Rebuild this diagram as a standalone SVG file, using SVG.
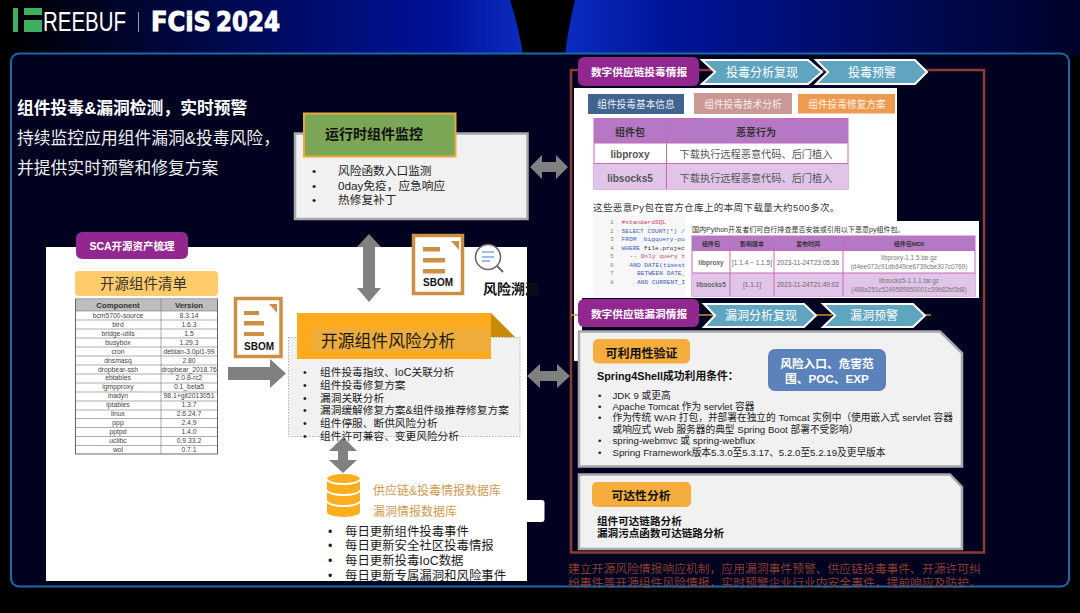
<svg xmlns="http://www.w3.org/2000/svg" width="1080" height="613" viewBox="0 0 1080 613">
<defs>
<linearGradient id="bgL" gradientUnits="userSpaceOnUse" x1="0" y1="0" x2="523" y2="0"><stop offset="0" stop-color="#000"/><stop offset="0.5" stop-color="#000a5c"/><stop offset="0.85" stop-color="#00129a"/><stop offset="1" stop-color="#0a2cc0"/></linearGradient>
<linearGradient id="bgR" gradientUnits="userSpaceOnUse" x1="565" y1="0" x2="1080" y2="0"><stop offset="0" stop-color="#0a2cc0"/><stop offset="0.2" stop-color="#00149a"/><stop offset="0.55" stop-color="#000c66"/><stop offset="1" stop-color="#000228"/></linearGradient>
</defs>
<style>
text{font-family:"Liberation Sans","Noto Sans CJK SC",sans-serif}
.b{font-weight:700}
.w{fill:#fff}
.ar{fill:#808080}
.pur{fill:#92278f}
.chev{fill:#5fa5c0;stroke:#fff;stroke-width:2}
.c{text-anchor:middle}
.gp{fill:#f1f1f1;stroke:#a9a9ad;stroke-width:2.5}
.sb{fill:#fff;stroke:#cc8f44;stroke-width:3.5}
.sl{fill:#cc8f44}
.t97{font-size:9.7px;fill:#222}
.t107{font-size:10.7px;fill:#222}
.t117{font-size:11.7px;fill:#222}
.t124{font-size:12.4px;fill:#1c1c1c}
.cell{font-size:6.8px;fill:#444;text-anchor:middle}
.ln{stroke:#777;stroke-width:.6}
.m{font-size:6.2px}
.m text{font-family:"Liberation Mono",monospace}
.tab{font-size:9.7px;text-anchor:middle}
.pt{font-size:10.2px;fill:#555;text-anchor:middle}
.h2{font-size:6px;font-weight:700;fill:#333;text-anchor:middle}
.v2{font-size:6.5px;fill:#666;text-anchor:middle}
.md{font-size:6.4px;fill:#777;text-anchor:middle}
</style>
<rect width="1080" height="613" fill="#000"/>
<path d="M0 0H510Q519 28 523 56H0z" fill="url(#bgL)"/>
<path d="M575 0Q568 28 565 56H1080V0z" fill="url(#bgR)"/>
<rect x="11" y="53.500" width="1058" height="533" rx="8" fill="#00021f" stroke="#1a6aa8" stroke-width="2"/>

<g id="logo">
<rect x="13" y="8" width="5" height="24" fill="#3fae5f"/><rect x="24" y="8" width="18" height="7" fill="#3fae5f"/><rect x="24" y="20" width="18" height="12" fill="#3fae5f"/>
<text x="43" y="31" font-size="27" class="w" textLength="83" lengthAdjust="spacingAndGlyphs">REEBUF</text>
<rect x="138" y="12" width="1" height="20" fill="#99a"/>
<text x="151" y="31" font-size="26" class="w b" stroke="#fff" stroke-width="1" textLength="60" lengthAdjust="spacingAndGlyphs" style="font-family:'DejaVu Sans',sans-serif">FCiS</text>
<text x="216" y="31" font-size="26" class="w b" stroke="#fff" stroke-width="1" textLength="64" lengthAdjust="spacingAndGlyphs" style="font-family:'DejaVu Sans',sans-serif">2024</text>
</g>

<g id="intro">
<text x="17" y="114" font-size="16.800" class="w b">组件投毒&amp;漏洞检测，实时预警</text>
<text x="17" y="144" font-size="16.800" fill="#eee">持续监控应用组件漏洞&amp;投毒风险，</text>
<text x="17" y="174" font-size="16.800" fill="#eee">并提供实时预警和修复方案</text>
</g>

<g id="white-panels">
<rect x="46" y="247" width="481" height="334" fill="#fff"/>
<rect x="525" y="500" width="19.500" height="22" rx="3" fill="#fff"/>
</g>

<g id="connectors">
<path class="ar" d="M228 367h42v-8l16 14.500-16 14.500v-8h-42z"/>
<path class="ar" d="M369 234l12 13h-6v41h6l-12 14-12-14h6v-41h-6z"/>
<path class="ar" d="M343 437l14 14h-9v9h9l-14 13-14-13h9v-9h-9z"/>
<path class="ar" d="M530 167l12-12v7h14v-7l12 12-12 12v-7h-14v7z"/>
<path class="ar" d="M527 376l13-12v7h17v-7l13 12-13 12v-7h-17v7z"/>
<path d="M571 552.500V70H984V552.500z" fill="none" stroke="#8a3c30" stroke-width="2.500"/>
</g>

<g id="sca">
<rect x="76" y="232" width="112" height="27" rx="6" class="pur"/>
<text x="132" y="250" font-size="10.500" class="w b c">SCA开源资产梳理</text>
<rect x="75" y="271" width="143" height="25" rx="4" fill="#ffcb6b"/>
<text x="143.500" y="289" font-size="14.500" fill="#333" class="c">开源组件清单</text>
</g>

<g id="component-table">
<rect x="75.500" y="299" width="142" height="155" fill="#fff" stroke="#666" stroke-width="1"/>
<rect x="76" y="299.500" width="141" height="11.500" fill="#bdbdbd"/>
<path class="ln" d="M76 311H217M76 320H217M76 329H217M76 338H217M76 347H217M76 356H217M76 365H217M76 374H217M76 383H217M76 392H217M76 401H217M76 410H217M76 418.500H217M76 427.500H217M76 436.500H217M76 445.500H217M161 299V454"/>
<text x="118" y="308" font-size="7.800" class="c b" fill="#333">Component</text><text x="189" y="308" font-size="7.800" class="c b" fill="#333">Version</text>
<text class="cell" x="118" y="317.700">bcm5700-source</text><text class="cell" x="189" y="317.700">8.3.14</text>
<text class="cell" x="118" y="326.700">bird</text><text class="cell" x="189" y="326.700">1.6.3</text>
<text class="cell" x="118" y="335.600">bridge-utils</text><text class="cell" x="189" y="335.600">1.5</text>
<text class="cell" x="118" y="344.600">busybox</text><text class="cell" x="189" y="344.600">1.29.3</text>
<text class="cell" x="118" y="353.500">cron</text><text class="cell" x="189" y="353.500">debian-3.0pl1-99</text>
<text class="cell" x="118" y="362.500">dnsmasq</text><text class="cell" x="189" y="362.500">2.80</text>
<text class="cell" x="118" y="371.500">dropbear-ssh</text><text class="cell" x="189" y="371.500">dropbear_2018.76</text>
<text class="cell" x="118" y="380.400">ebtables</text><text class="cell" x="189" y="380.400">2.0.8-rc2</text>
<text class="cell" x="118" y="389.400">igmpproxy</text><text class="cell" x="189" y="389.400">0.1_beta5</text>
<text class="cell" x="118" y="398.300">inadyn</text><text class="cell" x="189" y="398.300">98.1+git2013051</text>
<text class="cell" x="118" y="407.300">iptables</text><text class="cell" x="189" y="407.300">1.3.7</text>
<text class="cell" x="118" y="416.300">linux</text><text class="cell" x="189" y="416.300">2.6.24.7</text>
<text class="cell" x="118" y="425.200">ppp</text><text class="cell" x="189" y="425.200">2.4.9</text>
<text class="cell" x="118" y="434.200">pptpd</text><text class="cell" x="189" y="434.200">1.4.0</text>
<text class="cell" x="118" y="443.100">uclibc</text><text class="cell" x="189" y="443.100">0.9.33.2</text>
<text class="cell" x="118" y="452.100">wol</text><text class="cell" x="189" y="452.100">0.7.1</text>
</g>

<g id="sbom-left">
<rect x="235.500" y="298.500" width="45.500" height="58" class="sb"/>
<path d="M269 304h8v9z" class="sl"/>
<rect x="244" y="311" width="15" height="4" class="sl"/><rect x="244" y="321" width="20" height="4.500" class="sl"/><rect x="244" y="332" width="20" height="4" class="sl"/>
<text x="259" y="350" font-size="10" class="b c" fill="#111">SBOM</text>
</g>

<g id="runtime">
<rect x="295" y="133.500" width="232.500" height="85.500" class="gp"/>
<rect x="304" y="113.500" width="151.500" height="43" fill="#7aa655" stroke="#eda83b" stroke-width="2"/>
<text x="374" y="138.500" font-size="14" class="b c" fill="#111">运行时组件监控</text>
<text x="312" y="175" class="t117">•</text><text x="338" y="175" class="t117">风险函数入口监测</text>
<text x="312" y="190" class="t117">•</text><text x="338" y="190" class="t117">0day免疫，应急响应</text>
<text x="312" y="204" class="t117">•</text><text x="338" y="204" class="t117">热修复补丁</text>
</g>

<g id="sbom-top">
<rect x="413.500" y="235.500" width="49" height="58" class="sb"/>
<path d="M451 241h8v9z" class="sl"/>
<rect x="423" y="247" width="17" height="4.500" class="sl"/><rect x="423" y="258" width="22" height="4.500" class="sl"/><rect x="423" y="269" width="22" height="4.500" class="sl"/>
<text x="438" y="286" font-size="10" class="b c" fill="#111">SBOM</text>
</g>

<g id="risk-trace">
<circle cx="488" cy="257" r="12.500" fill="#fff" stroke="#666" stroke-width="1.500"/>
<path d="M497 266l6 6" stroke="#666" stroke-width="2"/>
<path d="M482 252h12M482 257h12M482 261h8" stroke="#7aa7ee" stroke-width="1.500"/>
<text x="483" y="294" font-size="14" class="b" fill="#111">风险溯源</text>
</g>

<g id="risk-analysis">
<rect x="288.500" y="337.500" width="231.500" height="99" fill="#f1f1f1" stroke="#b0b0b0" stroke-dasharray="1.500 1.500"/>
<path d="M491 313l24 24h-24z" fill="#c98a05"/>
<rect x="297" y="313" width="194" height="46" fill="#fdab1d"/>
<rect x="312" y="328" width="179" height="24" rx="4" fill="#eeac3a"/>
<text x="321" y="347" font-size="16.800" fill="#1a1a1a">开源组件风险分析</text>
<text x="303" y="376" class="t107">•</text><text x="320" y="376" class="t107">组件投毒指纹、IoC关联分析</text>
<text x="303" y="389" class="t107">•</text><text x="320" y="389" class="t107">组件投毒修复方案</text>
<text x="303" y="402" class="t107">•</text><text x="320" y="402" class="t107">漏洞关联分析</text>
<text x="303" y="414" class="t107">•</text><text x="320" y="414" class="t107">漏洞缓解修复方案&amp;组件级推荐修复方案</text>
<text x="303" y="427" class="t107">•</text><text x="320" y="427" class="t107">组件停服、断供风险分析</text>
<text x="303" y="440" class="t107">•</text><text x="320" y="440" class="t107">组件许可兼容、变更风险分析</text>
</g>

<g id="database">
<path d="M327 479a16.500 5 0 0 1 33 0v33a16.500 5 0 0 1-33 0z" fill="#fcae1e"/>
<path d="M327 479a16.500 5 0 0 0 33 0M327 490a16.500 5 0 0 0 33 0M327 501a16.500 5 0 0 0 33 0" fill="none" stroke="#fff" stroke-width="1.800"/>
<text x="373" y="494.500" font-size="12" fill="#cf9a4e">供应链&amp;投毒情报数据库</text>
<text x="373" y="516" font-size="12" fill="#cf9a4e">漏洞情报数据库</text>
<text x="328" y="535.500" class="t124">•</text><text x="345" y="535.500" class="t124">每日更新组件投毒事件</text>
<text x="328" y="550" class="t124">•</text><text x="345" y="550" class="t124">每日更新安全社区投毒情报</text>
<text x="328" y="565" class="t124">•</text><text x="345" y="565" class="t124">每日更新投毒IoC数据</text>
<text x="328" y="580" class="t124">•</text><text x="345" y="580" class="t124">每日更新专属漏洞和风险事件</text>
</g>

<g id="poison-panel">
<rect x="574" y="88" width="323" height="210" fill="#fff"/>
<rect x="574" y="298" width="8" height="63" fill="#fff"/>
<rect x="578" y="57" width="121" height="29" rx="6" class="pur"/>
<text x="639" y="76" font-size="10.700" class="w b c">数字供应链投毒情报</text>
<path class="chev" d="M702 60H808L822 72 808 84H702L715 72z"/>
<text x="762" y="76.500" font-size="12" class="w c">投毒分析复现</text>
<path class="chev" d="M816 60H915L927 72 915 84H816L828 72z"/>
<text x="872" y="76.500" font-size="12" class="w c">投毒预警</text>
<rect x="588" y="94" width="96" height="20" fill="#41648f"/><text class="tab" x="636" y="108" fill="#e8eef6">组件投毒基本信息</text>
<rect x="694" y="93" width="98" height="21" fill="#cb9995"/><text class="tab" x="743" y="108" fill="#f7ecec">组件投毒技术分析</text>
<rect x="798" y="94" width="97" height="19.500" fill="#ee9a50"/><text class="tab" x="847" y="108" fill="#fff3e6">组件投毒修复方案</text>
<rect x="594" y="118.500" width="254" height="70.500" fill="#fff" stroke="#c868b8"/>
<rect x="594" y="119" width="254" height="24" fill="#b478c4"/>
<rect x="594" y="163.500" width="254" height="25.500" fill="#e0c5e8"/>
<path d="M594 143H848M594 163.500H848M666.500 119V189" stroke="#c868b8" fill="none"/>
<text x="630" y="136" font-size="10" class="c b" fill="#333">组件包</text><text x="756" y="136" font-size="10" class="c b" fill="#333">恶意行为</text>
<text x="630" y="158" font-size="10" class="c b" fill="#555">libproxy</text><text class="pt" x="756" y="158">下载执行远程恶意代码、后门植入</text>
<text x="630" y="181.500" font-size="10" class="c b" fill="#555">libsocks5</text><text class="pt" x="756" y="181.500">下载执行远程恶意代码、后门植入</text>
<text x="593" y="211" font-size="9.500" fill="#333" letter-spacing=".4">这些恶意Py包在官方仓库上的本周下载量大约500多次。</text>
<rect x="593" y="216" width="92" height="81" fill="#f7f7f7"/>
<g class="m" fill="#888"><text x="610" y="224">1</text><text x="610" y="232.600">2</text><text x="610" y="241">3</text><text x="610" y="249.600">4</text><text x="610" y="258">5</text><text x="610" y="267">6</text><text x="610" y="275">7</text><text x="610" y="284">8</text></g>
<g class="m">
<text x="621.500" y="224" fill="#d04070">#standardSQL</text>
<text x="621.500" y="232.600" fill="#4060c0">SELECT COUNT(*) /</text>
<text x="621.500" y="241" fill="#4060c0">FROM `bigquery-pu</text>
<text x="621.500" y="249.600" fill="#4060c0">WHERE <tspan fill="#333">file.projec</tspan></text>
<text x="629.500" y="258" fill="#d04070">-- Only query t</text>
<text x="629.500" y="267" fill="#4060c0">AND DATE(timest</text>
<text x="637" y="275" fill="#4060c0">BETWEEN DATE_</text>
<text x="637" y="284" fill="#4060c0">AND CURRENT_I</text>
</g>
<rect x="685" y="221" width="294" height="77" fill="#fff"/>
<text x="692" y="232" font-size="7.050" fill="#333">国内Python开发者们可自行排查是否安装或引用以下恶意py组件包。</text>
<rect x="692" y="236" width="283" height="60" fill="#fff" stroke="#c868b8"/>
<rect x="692" y="236" width="283" height="14.500" fill="#b478c4"/>
<rect x="692" y="273" width="283" height="23" fill="#e0c5e8"/>
<path d="M692 250.500H975M692 273H975M730 236V296M774 236V296M843 236V296" stroke="#c868b8" fill="none"/>
<text class="h2" x="711" y="246">组件包</text><text class="h2" x="752" y="246">影响版本</text><text class="h2" x="808" y="246">发布时间</text><text class="h2" x="909" y="246">组件包MD5</text>
<text class="v2 b" x="711" y="265">libproxy</text><text class="v2" x="752" y="265">[1.1.4 ~ 1.1.5]</text><text class="v2" x="808" y="265">2023-11-24T23:05:36</text>
<text class="md" x="909" y="260">libproxy-1.1.5.tar.gz</text><text class="md" x="909" y="269">(d4ee072c91db649ce6739cbe307c0769)</text>
<text class="v2 b" x="711" y="287">libsocks5</text><text class="v2" x="752" y="287">[1.1.1]</text><text class="v2" x="808" y="287">2023-11-24T21:49:02</text>
<text class="md" x="909" y="282.500">libsocks5-1.1.1.tar.gz</text><text class="md" x="909" y="291.500">(488a251c5249589850001c39b82bf3d8)</text>
</g>

<g id="vuln-header">
<path d="M571 315h8M699 315h16M816 315h16M925 315h6" fill="none" stroke="#c8902e" stroke-width="1.500"/>
<rect x="578" y="299" width="121" height="28" rx="6" class="pur"/>
<text x="639" y="318" font-size="10.700" class="w b c">数字供应链漏洞情报</text>
<path class="chev" d="M704 304H804L816 315.500 804 327H704L715 315.500z"/>
<text x="761" y="320" font-size="12" class="w c">漏洞分析复现</text>
<path class="chev" d="M823 304H913L925 315.500 913 327H823L835 315.500z"/>
<text x="874" y="320" font-size="12" class="w c">漏洞预警</text>
</g>

<g id="exploit-panel">
<path class="gp" d="M579 331.500H940L962 353V466.500H579z"/>
<rect x="593" y="339" width="97" height="24.500" rx="5" fill="#f5ae3e"/>
<text x="641.500" y="357.500" font-size="12" class="b c" fill="#111">可利用性验证</text>
<rect x="768" y="349" width="118" height="42" rx="7" fill="#5b82bb"/>
<text x="827" y="368" font-size="11.700" class="w b c">风险入口、危害范</text>
<text x="827" y="383" font-size="11.700" class="w b c">围、POC、EXP</text>
<text x="597" y="380" font-size="10.800" class="b" fill="#111">Spring4Shell成功利用条件：</text>
<text x="598" y="399" class="t97">•</text><text x="612.500" y="399" class="t97">JDK 9 或更高</text>
<text x="598" y="410" class="t97">•</text><text x="612.500" y="410" class="t97">Apache Tomcat 作为 servlet 容器</text>
<text x="598" y="421" class="t97">•</text><text x="612.500" y="421" class="t97">作为传统 WAR 打包，并部署在独立的 Tomcat 实例中（使用嵌入式 servlet 容器</text>
<text x="612.500" y="433" class="t97">或响应式 Web 服务器的典型 Spring Boot 部署不受影响）</text>
<text x="598" y="444" class="t97">•</text><text x="612.500" y="444" class="t97">spring-webmvc 或 spring-webflux</text>
<text x="598" y="456" class="t97">•</text><text x="612.500" y="456" class="t97">Spring Framework版本5.3.0至5.3.17、5.2.0至5.2.19及更早版本</text>
</g>

<g id="reach-panel">
<path class="gp" d="M579 474.500H950L962 487V549H579z"/>
<rect x="592" y="482" width="99" height="25" rx="5" fill="#f5ae3e"/>
<text x="641" y="499.500" font-size="11.800" class="b c" fill="#111">可达性分析</text>
<text x="597" y="525" font-size="10.600" class="b" fill="#111">组件可达链路分析</text>
<text x="597" y="537" font-size="10.600" class="b" fill="#111">漏洞污点函数可达链路分析</text>
</g>

<g id="footer-note">
<text x="568" y="572.500" font-size="11.800" fill="#8a3c30">建立开源风险情报响应机制，应用漏洞事件预警、供应链投毒事件、开源许可纠</text>
<text x="568" y="587" font-size="11.800" fill="#8a3c30">纷事件等开源组件风险情报，实时预警企业行业内安全事件，提前响应及防护。</text>
</g>
</svg>
